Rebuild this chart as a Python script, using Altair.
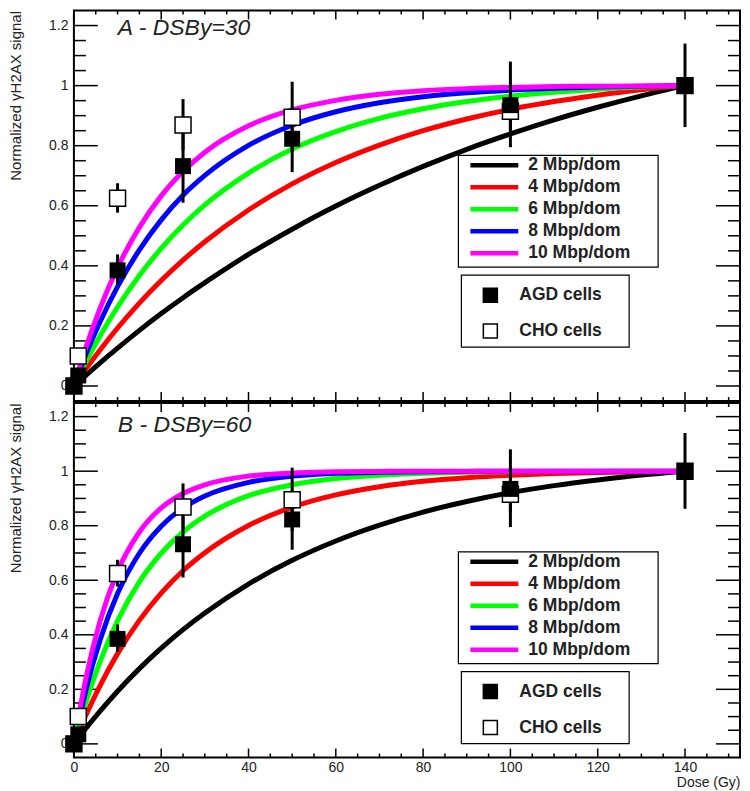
import altair as alt
import pandas as pd

# ---------------- data ----------------
dose_curve = [1, 3, 6, 10, 15, 20, 25, 30, 40, 50, 60, 70, 80, 90, 100, 110, 120, 130, 140]
labels = ["2 Mbp/dom", "4 Mbp/dom", "6 Mbp/dom", "8 Mbp/dom", "10 Mbp/dom"]
colors = ["#000000", "#ff0000", "#00ff00", "#0000ff", "#ff00ff"]

# panel A (DSBy=30)
a_2 = [0.013, 0.039, 0.077, 0.126, 0.185, 0.241, 0.294, 0.344, 0.438, 0.522, 0.599, 0.668, 0.731, 0.788, 0.839, 0.886, 0.928, 0.966, 1.0]
a_4 = [0.021, 0.062, 0.120, 0.193, 0.276, 0.351, 0.419, 0.480, 0.586, 0.673, 0.744, 0.802, 0.850, 0.889, 0.921, 0.947, 0.968, 0.986, 1.0]
a_6 = [0.030, 0.087, 0.167, 0.263, 0.368, 0.458, 0.536, 0.603, 0.709, 0.789, 0.847, 0.891, 0.923, 0.947, 0.965, 0.978, 0.988, 0.995, 1.0]
a_8 = [0.039, 0.114, 0.214, 0.331, 0.453, 0.553, 0.635, 0.701, 0.801, 0.868, 0.913, 0.943, 0.963, 0.976, 0.985, 0.991, 0.995, 0.998, 1.0]
a_10 = [0.049, 0.139, 0.259, 0.394, 0.528, 0.633, 0.714, 0.778, 0.866, 0.919, 0.951, 0.971, 0.983, 0.990, 0.994, 0.997, 0.998, 0.999, 1.0]

# panel B (DSBy=60)
b_2 = [0.021, 0.062, 0.120, 0.193, 0.276, 0.351, 0.419, 0.480, 0.586, 0.673, 0.744, 0.802, 0.850, 0.889, 0.921, 0.947, 0.968, 0.986, 1.0]
b_4 = [0.039, 0.114, 0.214, 0.331, 0.453, 0.553, 0.635, 0.701, 0.801, 0.868, 0.913, 0.943, 0.963, 0.976, 0.985, 0.991, 0.995, 0.998, 1.0]
b_6 = [0.058, 0.165, 0.302, 0.451, 0.594, 0.699, 0.777, 0.835, 0.910, 0.950, 0.973, 0.985, 0.992, 0.996, 0.998, 0.999, 0.999, 1.0, 1.0]
b_8 = [0.077, 0.213, 0.381, 0.551, 0.699, 0.798, 0.865, 0.909, 0.959, 0.982, 0.992, 0.996, 0.998, 0.999, 1.0, 1.0, 1.0, 1.0, 1.0]
b_10 = [0.095, 0.259, 0.451, 0.632, 0.777, 0.865, 0.918, 0.950, 0.982, 0.993, 0.998, 0.999, 1.0, 1.0, 1.0, 1.0, 1.0, 1.0, 1.0]

# measured points
cells = ["AGD cells", "CHO cells"]
agd_dose = [0, 1, 10, 25, 50, 100, 140]
agd_val = [0.0, 0.035, 0.385, 0.732, 0.823, 0.935, 1.0]
agd_lo = [0.0, 0.035, 0.338, 0.610, 0.712, 0.795, 0.862]
agd_hi = [0.0, 0.035, 0.438, 0.857, 0.930, 1.080, 1.140]
cho_dose = [0, 1, 10, 25, 50, 100, 140]
cho_val = [0.0, 0.100, 0.625, 0.869, 0.895, 0.915, 1.0]
cho_lo = [0.0, 0.100, 0.577, 0.785, 0.780, 0.850, 1.0]
cho_hi = [0.0, 0.100, 0.675, 0.955, 1.013, 0.980, 1.0]

# axis ticks
x_major = [0, 20, 40, 60, 80, 100, 120, 140]
x_minor = [5, 10, 15, 25, 30, 35, 45, 50, 55, 65, 70, 75, 85, 90, 95,
           105, 110, 115, 125, 130, 135, 145, 150]
y_major = [0, 0.2, 0.4, 0.6, 0.8, 1.0, 1.2]
y_minor = [0.05, 0.1, 0.15, 0.25, 0.3, 0.35, 0.45, 0.5, 0.55, 0.65, 0.7, 0.75,
           0.85, 0.9, 0.95, 1.05, 1.1, 1.15]

# ---------------- layout / style ----------------
FONT = "Liberation Sans"
TXT = "#222222"
W = 667
X_DOM = [0, 152.6]
Y_DOM = [-0.05, 1.25]


def make_panel(curves, title, H, title_y, leg_top, show_x):
    xs = alt.Scale(domain=X_DOM, nice=False, zero=False)
    ys = alt.Scale(domain=Y_DOM, nice=False, zero=False)
    y_axis = alt.Axis(values=y_major, format="~g", ticks=False, domain=False, grid=False,
                      labelPadding=6, labelFontSize=14, labelFlush=False, labelOverlap=False,
                      title="Normalized γH2AX signal", titleAngle=270, titleAlign="right",
                      titleBaseline="top", titleX=-65, titleY=0, titleFontSize=15,
                      titleFontWeight="normal")
    if show_x:
        x_axis = alt.Axis(values=x_major, ticks=False, domain=False, grid=False, labelPadding=3,
                          labelFontSize=14, labelFlush=False, labelOverlap=False,
                          title="Dose (Gy)", titleAnchor="end", titleFontSize=14,
                          titleFontWeight="normal", titlePadding=1)
    else:
        x_axis = None

    def X(field):
        return alt.X(field, scale=xs, axis=x_axis)

    def Y(field):
        return alt.Y(field, scale=ys, axis=y_axis)

    layers = []

    # inward ticks on all four sides
    for vals, length in [(y_major, 24), (y_minor, 12)]:
        d = pd.DataFrame({"v": vals})
        layers.append(alt.Chart(d).mark_rule(color="black", strokeWidth=1.5).encode(
            y=Y("v:Q"), x=alt.value(0), x2=alt.value(length)))
        layers.append(alt.Chart(d).mark_rule(color="black", strokeWidth=1.5).encode(
            y=Y("v:Q"), x=alt.value(W), x2=alt.value(W - length)))
    for vals, length in [(x_major, 9), (x_minor, 4)]:
        d = pd.DataFrame({"v": vals})
        layers.append(alt.Chart(d).mark_rule(color="black", strokeWidth=1.5).encode(
            x=X("v:Q"), y=alt.value(H), y2=alt.value(H - length)))
        layers.append(alt.Chart(d).mark_rule(color="black", strokeWidth=1.5).encode(
            x=X("v:Q"), y=alt.value(0), y2=alt.value(length)))

    # curves
    for lab, col, vals in zip(labels, colors, curves):
        df = pd.DataFrame({"dose": dose_curve, "value": vals})
        layers.append(
            alt.Chart(df).mark_line(color=col, strokeWidth=5, interpolate="monotone").encode(
                x=X("dose:Q"), y=Y("value:Q"))
        )

    # error bars and points
    pts = pd.DataFrame({
        "dose": cho_dose + agd_dose,
        "val": cho_val + agd_val,
        "lo": cho_lo + agd_lo,
        "hi": cho_hi + agd_hi,
        "cell": [cells[1]] * len(cho_dose) + [cells[0]] * len(agd_dose),
    })
    layers.append(
        alt.Chart(pts).mark_rule(color="black", strokeWidth=3).encode(
            x=X("dose:Q"), y=Y("lo:Q"), y2="hi:Q")
    )
    cho_df = pts[pts["cell"] == cells[1]]
    agd_df = pts[pts["cell"] == cells[0]]
    layers.append(
        alt.Chart(cho_df).mark_square(size=256, fill="white", stroke="black", strokeWidth=1.5,
                                      opacity=1, filled=True).encode(x=X("dose:Q"), y=Y("val:Q"))
    )
    layers.append(
        alt.Chart(agd_df).mark_square(size=256, color="black", opacity=1, filled=True).encode(
            x=X("dose:Q"), y=Y("val:Q"))
    )

    # panel title
    layers.append(
        alt.Chart(pd.DataFrame({"t": [title]})).mark_text(
            align="left", baseline="middle", fontSize=23, fontStyle="italic", font=FONT,
            color=TXT).encode(x=alt.value(44), y=alt.value(title_y), text="t:N")
    )

    # legend 1: curves
    box = pd.DataFrame({"a": [0]})
    layers.append(
        alt.Chart(box).mark_rect(fill="white", stroke="black", strokeWidth=1.2).encode(
            x=alt.value(385), x2=alt.value(585), y=alt.value(leg_top), y2=alt.value(leg_top + 112))
    )
    for i, (lab, col) in enumerate(zip(labels, colors)):
        py = leg_top + 10 + i * 22
        row = pd.DataFrame({"label": [lab]})
        layers.append(alt.Chart(row).mark_rule(color=col, strokeWidth=4.5).encode(
            x=alt.value(397), x2=alt.value(445), y=alt.value(py)))
        layers.append(alt.Chart(row).mark_text(
            align="left", baseline="middle", fontSize=17.5, fontWeight="bold", font=FONT,
            color=TXT).encode(x=alt.value(455), y=alt.value(py), text="label:N"))

    # legend 2: cells
    layers.append(
        alt.Chart(box).mark_rect(fill="white", stroke="black", strokeWidth=1.2).encode(
            x=alt.value(388), x2=alt.value(556), y=alt.value(leg_top + 120),
            y2=alt.value(leg_top + 192))
    )
    for i, (cell, fill) in enumerate(zip(cells, ["black", "white"])):
        py = leg_top + 140 + i * 36
        row = pd.DataFrame({"cell": [cell]})
        layers.append(alt.Chart(row).mark_square(
            size=196, fill=fill, stroke="black", strokeWidth=1.5, opacity=1, filled=True).encode(
            x=alt.value(417), y=alt.value(py)))
        layers.append(alt.Chart(row).mark_text(
            align="left", baseline="middle", fontSize=17.5, fontWeight="bold", font=FONT,
            color=TXT).encode(x=alt.value(446), y=alt.value(py), text="cell:N"))

    return alt.layer(*layers).properties(width=W, height=H)


panel_a = make_panel([a_2, a_4, a_6, a_8, a_10], "A - DSBy=30", 391, 18, 145, False)
panel_b = make_panel([b_2, b_4, b_6, b_8, b_10], "B - DSBy=60", 355, 22, 149, True)

chart = (
    alt.vconcat(panel_a, panel_b, spacing=-4)
    .properties(padding={"left": 0, "top": 0, "right": 0, "bottom": 0}, background="white")
    .configure_view(stroke="black", strokeWidth=2)
    .configure_axis(labelFont=FONT, titleFont=FONT, labelColor=TXT, titleColor=TXT)
)

chart.save("out.html", embed_options={"renderer": "svg", "actions": False})
